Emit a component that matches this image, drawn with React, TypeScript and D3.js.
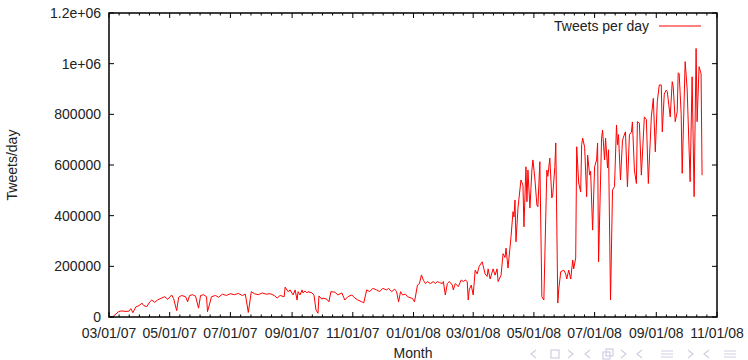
import React from 'react';
import * as d3 from 'd3';

// days counted from 03/01/07, values in thousands of tweets
const dayOffsets = [
  1, 4, 7, 10, 13, 17, 20, 22, 24, 27, 29, 31, 33, 35, 38, 41, 43, 46, 49, 53,
  56, 59, 63, 65, 68, 70, 73, 77, 79, 81, 84, 87, 90, 92, 95, 98, 99, 103, 107, 110,
  114, 118, 122, 126, 130, 134, 137, 140, 143, 146, 150, 154, 158, 162, 166, 169, 172, 176, 177, 180,
  182, 185, 187, 189, 190, 192, 194, 195, 197, 199, 200, 204, 206, 208, 210, 211, 214, 215, 219, 221,
  223, 227, 230, 234, 237, 240, 244, 247, 250, 254, 256, 259, 262, 265, 269, 272, 275, 279, 281, 284,
  287, 289, 291, 293, 295, 298, 300, 305, 307, 310, 312, 314, 316, 318, 320, 323, 326, 328, 330, 332,
  335, 336, 338, 340, 342, 345, 346, 348, 351, 354, 356, 358, 360, 361, 362, 364, 366, 368, 370, 372,
  375, 378, 380, 381, 383, 386, 388, 390, 391, 394, 396, 398, 399, 401, 404, 406, 407, 408, 409, 411,
  414, 416, 417, 419, 420, 421, 423, 425, 426, 428, 430, 431, 433, 435, 437, 440, 441, 443, 445, 446,
  448, 449, 451, 452, 454, 457, 459, 460, 462, 464, 466, 467, 469, 470, 472, 474, 475, 476, 478, 480,
  481, 483, 484, 486, 488, 490, 491, 492, 495, 496, 498, 499, 501, 502, 504, 506, 508, 510, 511, 512,
  514, 516, 517, 519, 521, 523, 525, 526, 528, 530, 531, 533, 535, 538, 540, 542, 545, 547, 549, 551,
  553, 555, 556, 558, 560, 561, 564, 566, 567, 569, 571, 572, 573, 575, 576, 579, 581, 584, 586, 588,
  590, 591, 593, 595, 596,
];

const tweetsThousands = [
  0, 2, 12, 22, 24, 22, 23, 33, 17, 40, 43, 47, 55, 45, 41, 60, 67, 58, 68, 75,
  80, 70, 87, 72, 25, 78, 85, 80, 60, 85, 88, 82, 35, 85, 88, 80, 21, 80, 85, 78,
  90, 85, 92, 88, 93, 85, 90, 18, 100, 92, 88, 95, 90, 92, 85, 75, 85, 80, 118, 100,
  107, 87, 107, 67, 100, 87, 107, 95, 103, 95, 100, 95, 87, 28, 15, 83, 70, 75, 70, 60,
  100, 98, 87, 95, 67, 80, 87, 75, 67, 60, 56, 107, 100, 113, 107, 100, 113, 107, 113, 100,
  110, 100, 60, 100, 87, 90, 80, 73, 60, 126, 132, 166, 145, 132, 140, 132, 140, 132, 140, 136,
  132, 140, 87, 132, 140, 126, 107, 132, 120, 146, 140, 146, 140, 67, 107, 126, 87, 185, 170, 200,
  218, 170, 160, 190, 150, 190, 165, 190, 140, 165, 250, 235, 272, 193, 317, 416, 395, 462, 297, 430,
  541, 520, 356, 593, 455, 580, 430, 580, 620, 545, 442, 435, 613, 80, 67, 580, 555, 627, 470, 485,
  590, 687, 55, 110, 179, 185, 170, 150, 185, 150, 225, 190, 233, 672, 529, 494, 680, 706, 670, 475,
  639, 560, 575, 343, 593, 620, 687, 218, 706, 738, 620, 706, 588, 660, 67, 501, 515, 758, 680, 720,
  541, 695, 710, 731, 514, 720, 730, 770, 580, 527, 771, 765, 560, 790, 780, 527, 790, 863, 652, 850,
  916, 916, 731, 880, 896, 890, 790, 929, 910, 771, 810, 964, 960, 800, 567, 1008, 900, 534, 948, 475,
  1060, 771, 988, 960, 560,
];

const xTickDates = [
  '2007-03-01', '2007-05-01', '2007-07-01', '2007-09-01', '2007-11-01', '2008-01-01',
  '2008-03-01', '2008-05-01', '2008-07-01', '2008-09-01', '2008-11-01',
];
const xTickLabels = [
  '03/01/07', '05/01/07', '07/01/07', '09/01/07', '11/01/07', '01/01/08',
  '03/01/08', '05/01/08', '07/01/08', '09/01/08', '11/01/08',
];
const yTicks = [0, 200000, 400000, 600000, 800000, 1000000, 1200000];
const yTickLabels = ['0', '200000', '400000', '600000', '800000', '1e+06', '1.2e+06'];

const W = 748;
const H = 360;
const left = 109;
const right = 717;
const top = 13;
const bottom = 317;
const font = '"Liberation Sans", Arial, Helvetica, sans-serif';
const fs = 14;

const App = () => {
  const start = d3.utcParse('%Y-%m-%d')(xTickDates[0]) as Date;
  const end = d3.utcParse('%Y-%m-%d')(xTickDates[xTickDates.length - 1]) as Date;
  const x = d3.scaleUtc().domain([start, end]).range([left, right]);
  const y = d3.scaleLinear().domain([0, 1200000]).range([bottom, top]);

  const data = dayOffsets.map((d, i) => ({
    date: d3.utcDay.offset(start, d),
    value: tweetsThousands[i] * 1000,
  }));

  const line = d3
    .line<{ date: Date; value: number }>()
    .x((d) => x(d.date))
    .y((d) => y(d.value));

  const majorX = xTickDates.map((s) => x(d3.utcParse('%Y-%m-%d')(s) as Date));
  // gnuplot style minor ticks, 6 intervals between majors
  const minorX: number[] = [];
  for (let i = 0; i < majorX.length - 1; i++) {
    for (let k = 1; k < 6; k++) minorX.push(majorX[i] + ((majorX[i + 1] - majorX[i]) * k) / 6);
  }

  const majorLen = 5;
  const minorLen = 2.5;

  // beamer navigation symbols (faint, bottom right)
  const navColor = '#cfcfe3';

  return (
    <svg
      width={W}
      height={H}
      style={{ position: 'absolute', left: 0, top: 0, background: '#fff' }}
      fontFamily={font}
    >
      {/* data */}
      <path d={line(data) || ''} fill="none" stroke="#ff0000" strokeWidth={1} />

      {/* ticks */}
      <g stroke="#000" strokeWidth={1}>
        {majorX.map((px, i) => (
          <g key={'mx' + i}>
            <line x1={px} x2={px} y1={bottom} y2={bottom - majorLen} />
            <line x1={px} x2={px} y1={top} y2={top + majorLen} />
          </g>
        ))}
        {minorX.map((px, i) => (
          <g key={'nx' + i}>
            <line x1={px} x2={px} y1={bottom} y2={bottom - minorLen} />
            <line x1={px} x2={px} y1={top} y2={top + minorLen} />
          </g>
        ))}
        {yTicks.map((t, i) => (
          <g key={'y' + i}>
            <line x1={left} x2={left + majorLen} y1={y(t)} y2={y(t)} />
            <line x1={right} x2={right - majorLen} y1={y(t)} y2={y(t)} />
          </g>
        ))}
      </g>

      {/* frame */}
      <rect
        x={left}
        y={top}
        width={right - left}
        height={bottom - top}
        fill="none"
        stroke="#000"
        strokeWidth={1.5}
      />

      {/* tick labels */}
      <g fontSize={fs} fill="#222">
        {yTicks.map((t, i) => (
          <text key={'yl' + i} x={left - 8} y={y(t) + 5} textAnchor="end">
            {yTickLabels[i]}
          </text>
        ))}
        {majorX.map((px, i) => (
          <text key={'xl' + i} x={px} y={337.5} textAnchor="middle">
            {xTickLabels[i]}
          </text>
        ))}
      </g>

      {/* axis titles */}
      <text x={413} y={357.5} fontSize={fs} textAnchor="middle" fill="#222">
        Month
      </text>
      <text
        transform="translate(17,165) rotate(-90)"
        fontSize={fs}
        textAnchor="middle"
        fill="#222"
      >
        Tweets/day
      </text>

      {/* legend */}
      <text x={649} y={31} fontSize={fs} textAnchor="end" fill="#222">
        Tweets per day
      </text>
      <line x1={659} x2={701} y1={26} y2={26} stroke="#ff0000" strokeWidth={1} />

      {/* navigation symbols */}
      <g fill="none" stroke={navColor} strokeWidth={1.2}>
        <path d="M536,350 L531,354 L536,358" />
        <rect x={551} y={350} width={8} height={8} />
        <path d="M568,350 L573,354 L568,358" />
        <path d="M590,350 L585,354 L590,358" />
        <rect x={603} y={352} width={7} height={7} />
        <rect x={606} y={349} width={7} height={7} />
        <path d="M621,350 L626,354 L621,358" />
        <path d="M642,350 L637,354 L642,358" />
        <path d="M661,351 L673,351 M661,354 L673,354 M661,357 L673,357" />
        <path d="M688,350 L693,354 L688,358" />
        <path d="M709,350 L704,354 L709,358" />
        <path d="M724,351 L736,351 M724,354 L736,354 M724,357 L736,357" />
      </g>
    </svg>
  );
};

export default App;
